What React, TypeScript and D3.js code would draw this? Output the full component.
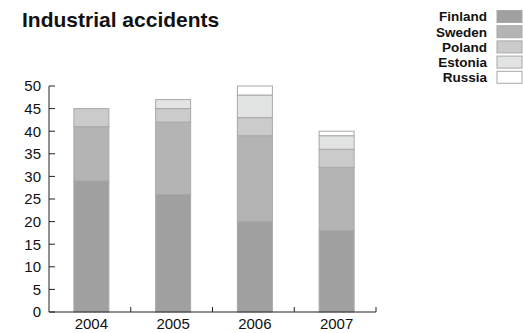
import React from "react";
import * as d3 from "d3";

const years = ["2004", "2005", "2006", "2007"];
const countries = ["Finland", "Sweden", "Poland", "Estonia", "Russia"];
const finland = [29, 26, 20, 18];
const sweden = [12, 16, 19, 14];
const poland = [4, 3, 4, 4];
const estonia = [0, 2, 5, 3];
const russia = [0, 0, 2, 1];
const yTicks = [0, 5, 10, 15, 20, 25, 30, 35, 40, 45, 50];
const fills = ["#a0a0a0", "#b4b4b4", "#cbcbcb", "#e2e3e3", "#ffffff"];

const W = 523;
const H = 333;
const font = "'Liberation Sans', Arial, Helvetica, sans-serif";

export default function App() {
  const series = [finland, sweden, poland, estonia, russia];
  const rows = years.map((y, i) => {
    const r: Record<string, number | string> = { year: y };
    countries.forEach((c, k) => (r[c] = series[k][i]));
    return r;
  });
  const stacked = d3.stack<any>().keys(countries)(rows);

  const x = d3.scaleBand().domain(years).range([49, 376]);
  const y = d3.scaleLinear().domain([0, 50]).range([312, 86]);
  const barW = 35;
  const cx = (yr: string) => (x(yr) as number) + x.bandwidth() / 2 + 1.5;

  const axisColor = "#222";

  return (
    <svg
      width={W}
      height={H}
      style={{ position: "absolute", left: 0, top: 0, background: "#fff" }}
    >
      <text x={22} y={27} fontFamily={font} fontWeight="bold" fontSize={21} fill="#111">
        Industrial accidents
      </text>

      {/* stacked bars */}
      {stacked.map((layer, k) =>
        layer.map((d, i) => {
          const h = y(d[0]) - y(d[1]);
          if (h <= 0) return null;
          return (
            <rect
              key={`${k}-${i}`}
              x={cx(years[i]) - barW / 2}
              y={y(d[1])}
              width={barW}
              height={h}
              fill={fills[k]}
              stroke="#a8a8a8"
              strokeWidth={1}
            />
          );
        })
      )}

      {/* y axis */}
      <line x1={49} x2={49} y1={y(50)} y2={y(0)} stroke={axisColor} strokeWidth={1} />
      {yTicks.map((t) => (
        <g key={t}>
          <line x1={49} x2={55} y1={y(t)} y2={y(t)} stroke={axisColor} strokeWidth={1} />
          <text
            x={41}
            y={y(t)}
            dy="0.36em"
            textAnchor="end"
            fontFamily={font}
            fontSize={15}
            fill="#111"
          >
            {t}
          </text>
        </g>
      ))}

      {/* x axis */}
      <line x1={49} x2={376} y1={312} y2={312} stroke={axisColor} strokeWidth={1.2} />
      {years.map((yr) => {
        const right = (x(yr) as number) + x.bandwidth();
        return (
          <g key={yr}>
            <line x1={right} x2={right} y1={312} y2={307} stroke={axisColor} strokeWidth={1} />
            <text
              x={cx(yr)}
              y={329}
              textAnchor="middle"
              fontFamily={font}
              fontSize={15}
              fill="#111"
            >
              {yr}
            </text>
          </g>
        );
      })}

      {/* legend */}
      {countries.map((c, k) => {
        const cy = 16.5 + k * 15.2;
        return (
          <g key={c}>
            <text
              x={487}
              y={cy}
              dy="0.36em"
              textAnchor="end"
              fontFamily={font}
              fontWeight="bold"
              fontSize={13.5}
              fill="#111"
            >
              {c}
            </text>
            <rect
              x={497}
              y={cy - 6}
              width={25}
              height={12}
              fill={fills[k]}
              stroke="#a8a8a8"
              strokeWidth={1}
            />
          </g>
        );
      })}
    </svg>
  );
}
